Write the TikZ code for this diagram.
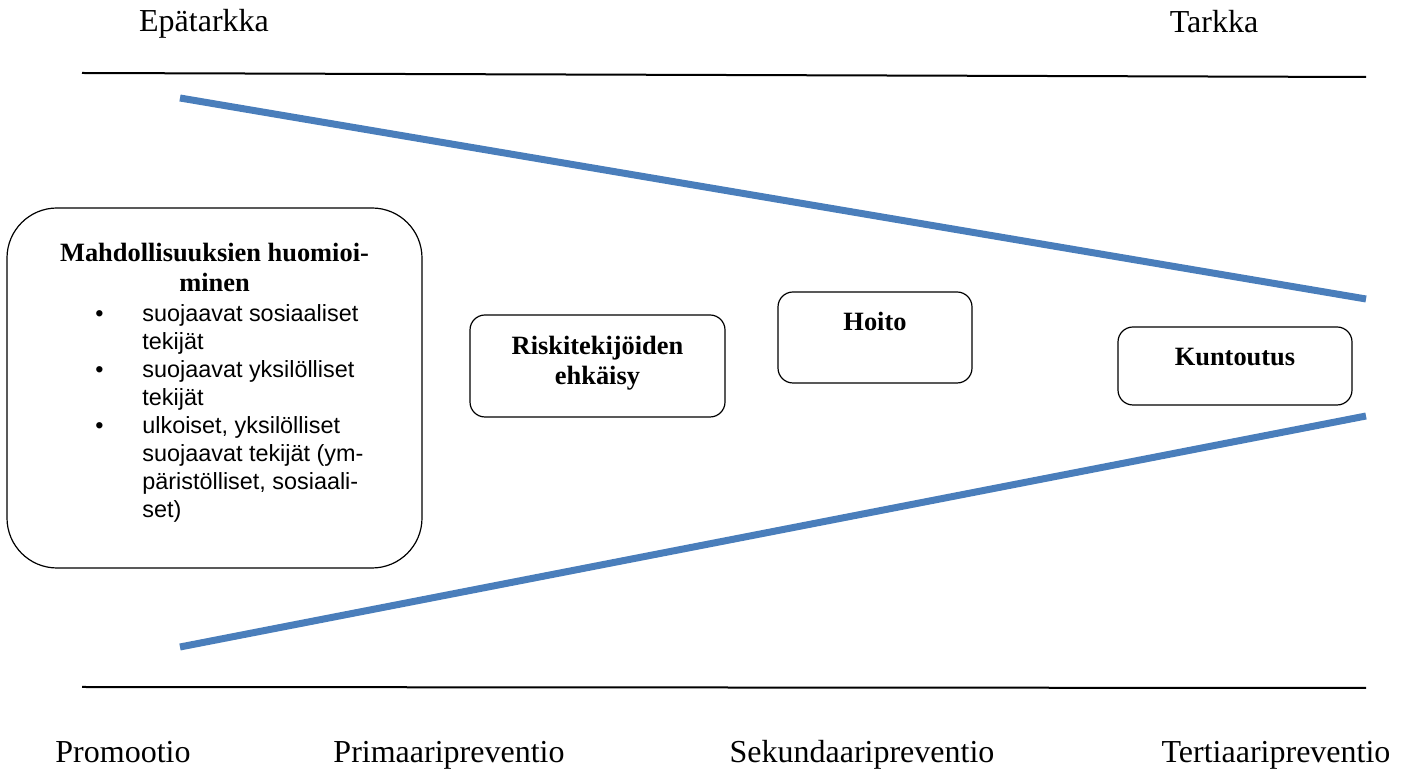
\documentclass[tikz,border=0pt]{standalone}
\usepackage{fontspec}
\setmainfont{Liberation Serif}
\setsansfont{Liberation Sans}
\usepackage{xcolor}
\usetikzlibrary{positioning, calc}
\definecolor{wedgeblue}{RGB}{74,126,187}

\begin{document}
\begin{tikzpicture}[x=0.5pt,y=-0.5pt,
    axisline/.style={line width=1pt},
    wedge/.style={draw=wedgeblue,line width=3.5pt},
    stagebox/.style={draw,line width=0.6pt,rounded corners=7.5pt,inner sep=0pt},
    stagetext/.style={font=\fontsize{13.2}{15}\selectfont\bfseries,anchor=base,inner sep=0pt},
    levellabel/.style={font=\fontsize{16}{19}\selectfont,anchor=base,inner sep=0pt}]
      \useasboundingbox (0,0) rectangle (1410,769);
      % ylä- ja alaraja
      \coordinate (topl) at (82,73);
      \coordinate (topr) at (1366,77);
      \coordinate (botl) at (82,687);
      \coordinate (botr) at (1366,688);
      \draw[axisline] (topl)--(topr);
      \draw[axisline] (botl)--(botr);
      % kiila
      \coordinate (wedgeul) at (180,98);
      \coordinate (wedgeur) at (1366,299);
      \coordinate (wedgell) at (180,647);
      \coordinate (wedgelr) at (1366,416);
      \draw[wedge] (wedgeul)--(wedgeur);
      \draw[wedge] (wedgell)--(wedgelr);
      % tarkkuus
      \node[levellabel] (epatarkka) at (204,32) {Epätarkka};
      \node[levellabel] (tarkka) at (1214,33) {Tarkka};
      % preventiotasot
      \node[levellabel] (promootio) at (123,763) {Promootio};
      \node[levellabel] (primaari) at (449,763) {Primaaripreventio};
      \node[levellabel] (sekundaari) at (862,763) {Sekundaaripreventio};
      \node[levellabel] (tertiaari) at (1276,763) {Tertiaaripreventio};
      % laatikot
      \node[stagebox,rounded corners=25pt,minimum width=207.5pt,minimum height=180pt] (mahd) at (214.5,388) {};
      \node[stagetext] (mahdtitle) at ($(mahd.north)+(0,54)$) {\begin{tabular}[t]{@{}c@{}}Mahdollisuuksien huomioi-\\minen\end{tabular}};
      \node[anchor=base west,inner sep=0pt,font=\sffamily\fontsize{11.7}{13.95}\selectfont] (mahdlist) at (95,322)
        {\begin{tabular}[t]{@{}p{23.5pt}@{}l@{}}
          • & suojaavat sosiaaliset\\
            & tekijät\\
          • & suojaavat yksilölliset\\
            & tekijät\\
          • & ulkoiset, yksilölliset\\
            & suojaavat tekijät (ym-\\
            & päristölliset, sosiaali-\\
            & set)
        \end{tabular}};
      \node[stagebox,minimum width=127.5pt,minimum height=51pt] (riski) at (597.5,366) {};
      \node[stagetext] (riskitext) at ($(riski.north)+(0,40)$) {\begin{tabular}[t]{@{}c@{}}Riskitekijöiden\\ehkäisy\end{tabular}};
      \node[stagebox,minimum width=97pt,minimum height=45.5pt] (hoito) at (875,337.5) {};
      \node[stagetext] (hoitotext) at ($(hoito.north)+(0,39)$) {Hoito};
      \node[stagebox,minimum width=117pt,minimum height=39pt] (kuntoutus) at (1235,366) {};
      \node[stagetext] (kuntoutustext) at ($(kuntoutus.north)+(0,39)$) {Kuntoutus};
    \end{tikzpicture}
\end{document}
